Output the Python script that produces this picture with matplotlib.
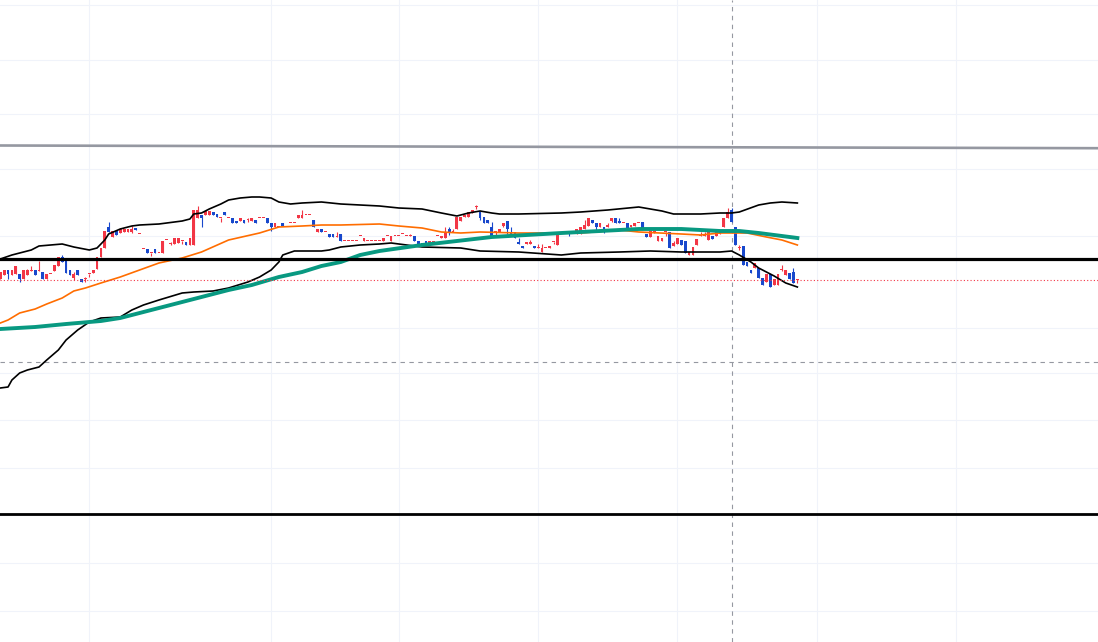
import numpy as np
import matplotlib.pyplot as plt

# daily bars: open, high, low, close
opens = [421, 425, 430, 425, 426, 426, 421, 425, 429, 430,
         429, 428, 421, 426, 429, 434, 443, 439, 430, 422,
         430, 421, 421, 426, 427, 431, 443, 452, 473, 463,
         469, 467, 468, 468, 468, 472, 466, 451, 451, 447,
         451, 447, 447, 460, 456, 456, 457, 459, 458, 455,
         455, 482, 485, 485, 485, 488, 486, 482, 488, 482,
         482, 479, 479, 480, 480, 479, 480, 482, 482, 482,
         477, 473, 473, 477, 473, 477, 477, 482, 482, 485,
         485, 480, 468, 471, 468, 466, 466, 463, 466, 459,
         459, 459, 459, 464, 459, 459, 459, 459, 459, 459,
         464, 459, 464, 464, 466, 464, 464, 464, 459, 457,
         459, 457, 457, 464, 462, 462, 471, 468, 471, 479,
         483, 483, 487, 493, 488, 483, 480, 473, 468, 468,
         474, 479, 468, 468, 458, 454, 456, 456, 454, 452,
         448, 452, 452, 458, 455, 466, 466, 468, 466, 466,
         466, 471, 474, 480, 477, 473, 473, 473, 479, 482,
         479, 477, 477, 473, 474, 477, 478, 466, 463, 467,
         459, 459, 468, 468, 454, 456, 460, 459, 445, 445,
         455, 464, 464, 460, 464, 464, 466, 473, 482, 490,
         473, 452, 454, 438, 430, 432, 432, 422, 418, 426,
         415, 415, 430, 425, 427, 428, 420]
highs = [428, 430, 430, 430, 434, 426, 430, 431, 434, 430,
         439, 428, 426, 426, 435, 443, 445, 439, 430, 428,
         430, 421, 423, 426, 430, 443, 452, 469, 478, 469,
         469, 472, 471, 471, 474, 472, 466, 451, 451, 447,
         451, 447, 459, 460, 458, 462, 462, 459, 458, 462,
         490, 494, 485, 489, 489, 488, 486, 482, 488, 482,
         482, 479, 482, 480, 482, 482, 480, 482, 482, 482,
         477, 477, 473, 477, 473, 477, 477, 485, 490, 485,
         485, 480, 471, 471, 468, 466, 466, 468, 466, 459,
         459, 459, 459, 464, 462, 459, 459, 459, 459, 462,
         464, 464, 464, 464, 466, 464, 466, 464, 459, 457,
         459, 459, 459, 464, 464, 473, 473, 471, 483, 483,
         485, 488, 490, 495, 488, 483, 480, 478, 468, 471,
         477, 479, 473, 468, 462, 454, 458, 460, 454, 456,
         456, 452, 454, 458, 466, 466, 466, 468, 466, 471,
         473, 480, 482, 480, 477, 477, 473, 477, 482, 482,
         482, 477, 477, 475, 477, 477, 478, 466, 469, 469,
         464, 462, 468, 468, 459, 462, 460, 459, 448, 453,
         461, 468, 468, 471, 464, 471, 469, 482, 492, 492,
         473, 455, 454, 438, 430, 437, 432, 422, 426, 426,
         421, 426, 435, 430, 427, 432, 420]
lows = [421, 425, 421, 425, 426, 418, 421, 425, 429, 425,
        429, 421, 421, 426, 429, 434, 438, 427, 425, 420,
        425, 418, 418, 423, 427, 431, 443, 452, 468, 463,
        465, 467, 468, 468, 467, 470, 466, 451, 447, 444,
        447, 447, 447, 460, 455, 456, 457, 456, 455, 455,
        455, 482, 473, 485, 485, 485, 483, 478, 485, 482,
        477, 477, 479, 477, 478, 479, 477, 482, 482, 477,
        469, 473, 473, 474, 473, 477, 477, 482, 482, 485,
        485, 473, 468, 468, 468, 463, 463, 463, 459, 459,
        459, 459, 459, 464, 459, 459, 459, 459, 459, 459,
        464, 459, 464, 464, 466, 464, 464, 459, 455, 455,
        455, 457, 457, 464, 462, 462, 465, 468, 471, 479,
        483, 483, 487, 491, 480, 477, 477, 463, 463, 468,
        473, 466, 466, 462, 456, 452, 456, 456, 452, 452,
        448, 452, 452, 456, 455, 466, 466, 464, 466, 466,
        466, 471, 474, 477, 469, 473, 467, 473, 478, 477,
        477, 477, 471, 473, 474, 477, 471, 463, 463, 467,
        459, 459, 464, 452, 454, 456, 455, 447, 445, 445,
        455, 464, 464, 460, 461, 464, 466, 473, 482, 478,
        455, 450, 435, 434, 427, 432, 422, 415, 418, 413,
        415, 415, 429, 425, 421, 417, 417]
closes = [428, 430, 426, 430, 434, 421, 430, 430, 430, 425,
          430, 421, 426, 426, 435, 443, 438, 427, 425, 426,
          425, 418, 421, 426, 430, 443, 452, 469, 468, 469,
          465, 471, 471, 471, 471, 470, 466, 451, 447, 447,
          447, 447, 459, 460, 457, 462, 462, 459, 455, 462,
          490, 490, 482, 489, 489, 485, 483, 482, 485, 482,
          477, 477, 482, 477, 480, 482, 477, 482, 482, 477,
          473, 477, 473, 474, 473, 477, 477, 485, 485, 485,
          485, 473, 471, 468, 468, 463, 463, 463, 459, 459,
          459, 459, 459, 464, 462, 459, 459, 459, 459, 462,
          464, 464, 464, 464, 466, 464, 464, 459, 455, 455,
          455, 459, 459, 464, 464, 468, 468, 468, 483, 483,
          485, 488, 490, 493, 482, 477, 477, 463, 468, 471,
          477, 471, 466, 462, 456, 452, 458, 458, 452, 452,
          452, 452, 454, 458, 466, 466, 466, 466, 466, 471,
          473, 475, 482, 477, 473, 477, 468, 475, 482, 477,
          477, 477, 471, 475, 477, 477, 471, 463, 469, 469,
          464, 462, 468, 452, 457, 462, 455, 447, 448, 453,
          461, 464, 464, 471, 461, 471, 469, 482, 488, 478,
          455, 452, 435, 434, 427, 437, 422, 415, 426, 413,
          421, 426, 430, 430, 421, 417, 420]

# indicator lines read at (bar, price)
bb_up_x = [0, 3, 5, 8, 10, 13, 16, 19, 23, 25, 27, 28, 31, 34, 36, 41, 47, 49, 50, 52,
           54, 57, 59, 62, 65, 67, 70, 72, 75, 78, 83, 88, 93, 98, 103, 109, 114, 118, 121, 124,
           127, 129, 134, 145, 150, 157, 165, 171, 174, 181, 186, 189, 191, 196, 199, 202, 206]
bb_up_y = [441, 445, 447, 450, 454, 455, 456, 453, 450, 452, 460, 466, 471, 474, 475, 476, 479, 481, 486, 487,
           491, 496, 500, 502, 503, 503, 502, 498, 496, 497, 498, 496, 495, 494, 492, 491, 487, 484, 487, 489,
           487, 486, 486, 487, 488, 490, 493, 489, 486, 486, 487, 487, 488, 495, 497, 498, 497]
bb_lo_x = [0, 2, 3, 5, 7, 10, 12, 15, 17, 20, 23, 26, 31, 34, 37, 41, 47, 50, 55, 59,
           64, 67, 70, 72, 73, 76, 83, 85, 88, 93, 98, 101, 109, 119, 124, 134, 145, 150, 160, 168,
           176, 186, 189, 191, 194, 196, 200, 203, 206]
bb_lo_y = [312, 313, 320, 327, 330, 333, 340, 350, 360, 370, 378, 382, 383, 390, 395, 400, 407, 408, 409, 412,
           418, 423, 430, 438, 445, 449, 449, 450, 453, 455, 456, 457, 453, 452, 449, 448, 445, 447, 448, 449,
           448, 448, 449, 445, 438, 432, 424, 417, 413]
ma_short_x = [0, 2, 5, 9, 12, 16, 19, 22, 26, 31, 36, 41, 47, 52, 59, 67, 72, 78, 83, 88,
              98, 103, 109, 114, 119, 124, 134, 145, 150, 160, 165, 176, 181, 186, 193, 198, 202, 206]
ma_short_y = [377, 380, 387, 391, 396, 402, 409, 412, 417, 423, 430, 437, 442, 448, 460, 467, 473, 474, 475, 475,
              476, 474, 472, 468, 467, 468, 467, 467, 467, 470, 468, 466, 465, 467, 467, 463, 460, 455]
ma_long_x = [0, 9, 17, 26, 31, 34, 39, 43, 48, 54, 59, 65, 72, 78, 83, 88, 93, 98, 109, 127,
             145, 165, 176, 186, 191, 196, 206]
ma_long_y = [371, 373, 376, 379, 382, 385, 390, 394, 399, 405, 410, 415, 423, 428, 434, 438, 445, 449, 455, 463,
             467, 471, 471, 469, 469, 467, 462]

trend_x = [-0.1, 283.7]
trend_y = [554.5, 551.8]
support_hi = 441
support_lo = 186
dash_level = 338
marker_bar = 189

grid_bars = [23, 70, 103, 139, 175, 211, 247]
grid_prices = [695, 640, 586, 531, 464, 372, 327, 280, 232, 185, 137, 89]

RED = '#f23645'
BLUE = '#1848cc'

fig = plt.figure(figsize=(10.98, 6.42), dpi=100)
ax = fig.add_axes([0, 0, 1, 1])

x = np.arange(len(opens))
o = np.array(opens, float)
c = np.array(closes, float)
up = c >= o
cols = np.where(up, RED, BLUE)

ax.vlines(x, lows, highs, colors=cols, linewidth=0.8, zorder=3)
body = np.maximum(np.abs(c - o), 1.0)
ax.bar(x, body, bottom=np.minimum(o, c), width=0.72, color=cols, linewidth=0, zorder=3)

ax.plot(bb_up_x, bb_up_y, color='black', lw=1.2, zorder=4)
ax.plot(bb_lo_x, bb_lo_y, color='black', lw=1.2, zorder=4)
ax.plot(ma_short_x, ma_short_y, color='#ff6d00', lw=1.2, zorder=4)
ax.plot(ma_long_x, ma_long_y, color='#089981', lw=2.8, zorder=4)

ax.plot(trend_x, trend_y, color='#9598a1', lw=1.9, zorder=5)
ax.axhline(support_hi, color='black', lw=2.3, zorder=5)
ax.axhline(support_lo, color='black', lw=2.0, zorder=5)
ax.axhline(closes[-1], color=RED, lw=0.8, ls=(0, (1, 2)), zorder=5)
ax.axhline(dash_level, color='#9598a1', lw=0.8, ls=(0, (4, 4)), zorder=2)
ax.axvline(marker_bar, color='#9598a1', lw=0.8, ls=(0, (4, 4)), zorder=2)

ax.set_xlim(-0.08, 283.7)
ax.set_ylim(58, 700)
ax.set_xticks(grid_bars)
ax.set_yticks(grid_prices)
ax.grid(True, color='#f0f3fa', lw=0.8, zorder=0)
ax.set_axisbelow(True)
ax.tick_params(length=0, labelbottom=False, labelleft=False)
for s in ax.spines.values():
    s.set_visible(False)

fig.savefig('out.png', dpi=100)
